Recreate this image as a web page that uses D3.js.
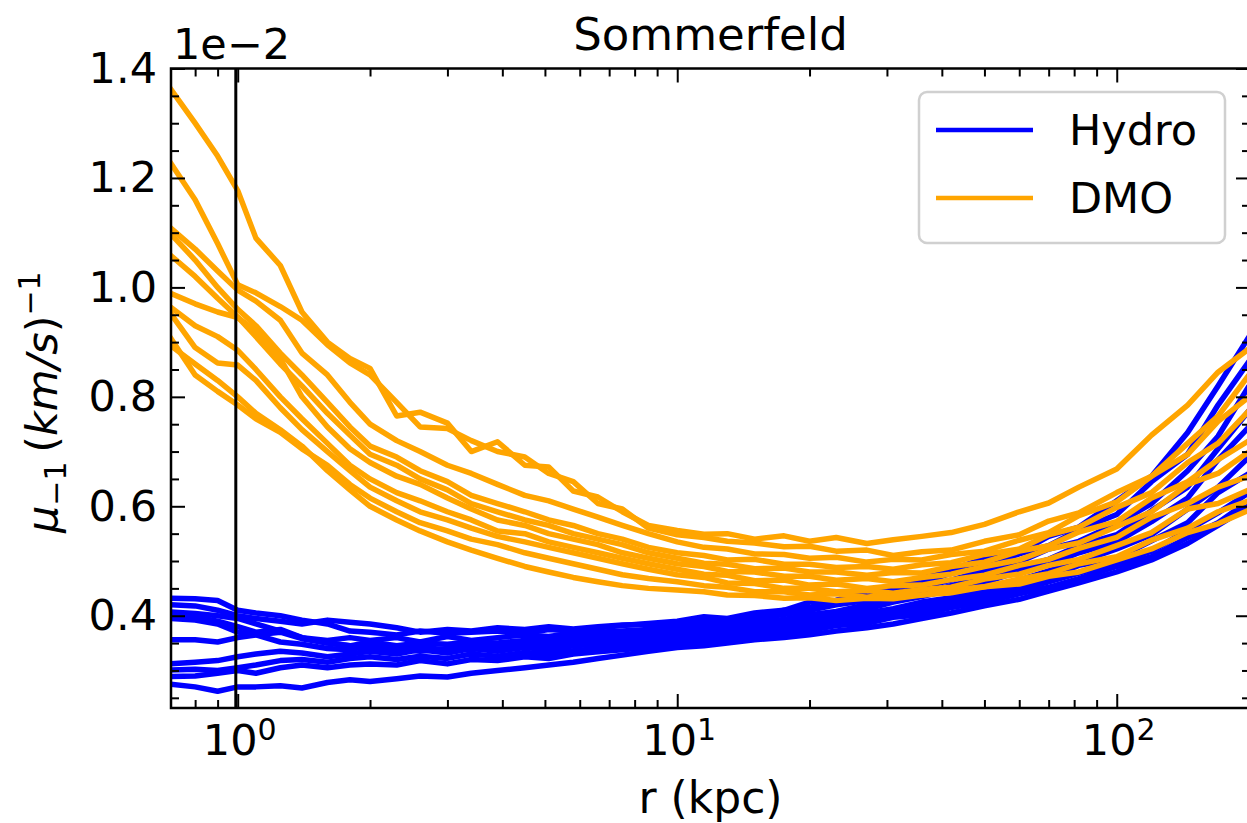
<!DOCTYPE html>
<html>
<head>
<meta charset="utf-8">
<script src="https://cdn.jsdelivr.net/npm/d3@7"></script>
<style>
  body { margin: 0; background: #fff; }
  text { font-family: 'DejaVu Sans', sans-serif; }
</style>
</head>
<body>
<div id="chart"></div>
<script>
// radius grid (kpc) shared by every profile
const radius = [0.7, 0.8, 0.9, 1.0, 1.1, 1.25, 1.4, 1.6, 1.8, 2.0, 2.3, 2.6, 3.0, 3.4, 3.9, 4.5, 5.1, 5.8, 6.6, 7.5,
  8.6, 10, 11.5, 13, 15, 17.5, 20, 23, 27, 31, 36, 42, 50, 60, 70, 82, 100, 120, 145, 170, 200]

// mu_-1 in units of 1e-2 (km/s)^-1
const hydro = [
  [0.432, 0.431, 0.428, 0.41, 0.405, 0.40, 0.392, 0.385, 0.372, 0.37, 0.365, 0.372, 0.368, 0.37, 0.372, 0.368, 0.375, 0.372, 0.378, 0.382, 0.386, 0.39, 0.398, 0.395, 0.405, 0.41, 0.425, 0.428, 0.445, 0.452, 0.47, 0.484, 0.505, 0.515, 0.545, 0.562, 0.61, 0.655, 0.735, 0.82, 0.91],
  [0.42, 0.418, 0.41, 0.40, 0.395, 0.39, 0.385, 0.392, 0.388, 0.385, 0.378, 0.37, 0.375, 0.372, 0.378, 0.375, 0.38, 0.376, 0.38, 0.383, 0.384, 0.385, 0.39, 0.392, 0.398, 0.41, 0.415, 0.428, 0.435, 0.45, 0.46, 0.478, 0.49, 0.513, 0.528, 0.557, 0.585, 0.645, 0.695, 0.785, 0.865],
  [0.407, 0.404, 0.40, 0.395, 0.385, 0.372, 0.36, 0.355, 0.36, 0.355, 0.36, 0.352, 0.362, 0.355, 0.36, 0.365, 0.362, 0.368, 0.37, 0.372, 0.375, 0.378, 0.383, 0.388, 0.395, 0.402, 0.41, 0.42, 0.428, 0.44, 0.452, 0.465, 0.483, 0.498, 0.522, 0.536, 0.568, 0.605, 0.665, 0.728, 0.82],
  [0.401, 0.398, 0.39, 0.38, 0.37, 0.375, 0.36, 0.35, 0.345, 0.352, 0.345, 0.35, 0.348, 0.352, 0.35, 0.355, 0.358, 0.36, 0.362, 0.366, 0.368, 0.372, 0.378, 0.38, 0.388, 0.393, 0.402, 0.408, 0.42, 0.43, 0.44, 0.455, 0.47, 0.488, 0.503, 0.528, 0.548, 0.592, 0.635, 0.705, 0.775],
  [0.395, 0.392, 0.385, 0.37, 0.365, 0.352, 0.348, 0.34, 0.338, 0.345, 0.338, 0.342, 0.338, 0.345, 0.342, 0.348, 0.35, 0.352, 0.356, 0.36, 0.364, 0.368, 0.37, 0.378, 0.382, 0.39, 0.395, 0.405, 0.412, 0.425, 0.435, 0.448, 0.46, 0.482, 0.493, 0.515, 0.535, 0.572, 0.615, 0.685, 0.745],
  [0.356, 0.356, 0.352, 0.36, 0.365, 0.37, 0.358, 0.35, 0.345, 0.338, 0.34, 0.335, 0.34, 0.338, 0.345, 0.342, 0.348, 0.345, 0.352, 0.355, 0.358, 0.362, 0.368, 0.37, 0.378, 0.383, 0.39, 0.397, 0.405, 0.413, 0.425, 0.433, 0.448, 0.465, 0.482, 0.498, 0.522, 0.548, 0.595, 0.635, 0.69],
  [0.312, 0.315, 0.318, 0.325, 0.33, 0.335, 0.332, 0.325, 0.33, 0.335, 0.33, 0.338, 0.332, 0.34, 0.335, 0.342, 0.338, 0.345, 0.348, 0.35, 0.354, 0.358, 0.362, 0.368, 0.372, 0.38, 0.385, 0.393, 0.398, 0.41, 0.418, 0.43, 0.44, 0.455, 0.47, 0.492, 0.505, 0.537, 0.57, 0.625, 0.66],
  [0.301, 0.302, 0.30, 0.305, 0.31, 0.318, 0.32, 0.315, 0.322, 0.325, 0.32, 0.326, 0.322, 0.33, 0.326, 0.333, 0.33, 0.336, 0.34, 0.343, 0.348, 0.352, 0.36, 0.362, 0.37, 0.375, 0.38, 0.39, 0.394, 0.405, 0.41, 0.423, 0.432, 0.447, 0.462, 0.478, 0.497, 0.518, 0.556, 0.588, 0.625],
  [0.289, 0.29, 0.295, 0.30, 0.295, 0.305, 0.31, 0.305, 0.31, 0.312, 0.31, 0.318, 0.312, 0.32, 0.318, 0.325, 0.322, 0.33, 0.334, 0.338, 0.342, 0.348, 0.352, 0.358, 0.363, 0.368, 0.373, 0.382, 0.386, 0.397, 0.402, 0.415, 0.425, 0.44, 0.452, 0.468, 0.49, 0.508, 0.543, 0.57, 0.61],
  [0.275, 0.27, 0.262, 0.27, 0.27, 0.272, 0.268, 0.278, 0.283, 0.28, 0.285, 0.29, 0.288, 0.295, 0.30, 0.305, 0.31, 0.315, 0.322, 0.328, 0.335, 0.342, 0.345, 0.35, 0.356, 0.36, 0.365, 0.372, 0.378, 0.385, 0.395, 0.405, 0.418, 0.43, 0.445, 0.46, 0.48, 0.502, 0.532, 0.565, 0.60]
]

const dmo = [
  [1.365, 1.30, 1.24, 1.177, 1.09, 1.04, 0.955, 0.90, 0.87, 0.852, 0.765, 0.772, 0.752, 0.70, 0.718, 0.675, 0.672, 0.628, 0.617, 0.59, 0.565, 0.556, 0.549, 0.55, 0.54, 0.546, 0.536, 0.543, 0.532, 0.539, 0.545, 0.552, 0.567, 0.59, 0.606, 0.635, 0.668, 0.73, 0.785, 0.845, 0.888],
  [1.23, 1.16, 1.08, 1.005, 0.99, 0.965, 0.94, 0.895, 0.862, 0.84, 0.79, 0.745, 0.742, 0.72, 0.70, 0.69, 0.66, 0.645, 0.605, 0.595, 0.56, 0.548, 0.543, 0.536, 0.533, 0.526, 0.527, 0.518, 0.52, 0.51, 0.517, 0.52, 0.536, 0.548, 0.573, 0.588, 0.625, 0.655, 0.715, 0.765, 0.84],
  [1.11, 1.07, 1.03, 0.995, 0.975, 0.94, 0.88, 0.84, 0.79, 0.75, 0.72, 0.70, 0.675, 0.66, 0.64, 0.62, 0.61, 0.595, 0.58, 0.565, 0.55, 0.535, 0.525, 0.522, 0.513, 0.512, 0.505, 0.507, 0.498, 0.503, 0.502, 0.512, 0.518, 0.538, 0.552, 0.583, 0.608, 0.655, 0.695, 0.755, 0.80],
  [1.10, 1.05, 1.0, 0.96, 0.93, 0.88, 0.84, 0.79, 0.745, 0.71, 0.69, 0.665, 0.645, 0.62, 0.605, 0.59, 0.575, 0.565, 0.55, 0.54, 0.525, 0.515, 0.51, 0.502, 0.503, 0.494, 0.494, 0.488, 0.49, 0.485, 0.493, 0.497, 0.512, 0.522, 0.548, 0.562, 0.598, 0.625, 0.68, 0.715, 0.775],
  [1.06, 1.02, 0.98, 0.946, 0.91, 0.86, 0.82, 0.77, 0.73, 0.695, 0.675, 0.65, 0.63, 0.605, 0.59, 0.575, 0.565, 0.55, 0.54, 0.53, 0.515, 0.505, 0.496, 0.494, 0.486, 0.487, 0.48, 0.48, 0.474, 0.479, 0.478, 0.49, 0.498, 0.518, 0.528, 0.553, 0.572, 0.615, 0.645, 0.685, 0.72],
  [0.99, 0.97, 0.955, 0.945, 0.92, 0.87, 0.80, 0.745, 0.705, 0.68, 0.655, 0.64, 0.615, 0.595, 0.575, 0.565, 0.55, 0.54, 0.53, 0.515, 0.505, 0.495, 0.49, 0.481, 0.48, 0.472, 0.472, 0.465, 0.468, 0.462, 0.47, 0.476, 0.49, 0.502, 0.522, 0.533, 0.563, 0.59, 0.64, 0.66, 0.70],
  [0.965, 0.93, 0.91, 0.885, 0.85, 0.80, 0.76, 0.715, 0.675, 0.65, 0.625, 0.61, 0.59, 0.575, 0.555, 0.55, 0.535, 0.525, 0.515, 0.505, 0.495, 0.485, 0.476, 0.474, 0.464, 0.465, 0.456, 0.458, 0.45, 0.455, 0.456, 0.466, 0.474, 0.492, 0.503, 0.523, 0.543, 0.58, 0.605, 0.635, 0.655],
  [0.955, 0.89, 0.862, 0.858, 0.83, 0.78, 0.74, 0.70, 0.665, 0.635, 0.61, 0.59, 0.575, 0.56, 0.545, 0.535, 0.525, 0.515, 0.505, 0.495, 0.485, 0.475, 0.47, 0.46, 0.459, 0.45, 0.45, 0.444, 0.446, 0.441, 0.448, 0.452, 0.467, 0.476, 0.492, 0.503, 0.528, 0.552, 0.595, 0.605, 0.63],
  [0.91, 0.84, 0.81, 0.785, 0.76, 0.735, 0.705, 0.675, 0.64, 0.615, 0.59, 0.57, 0.555, 0.54, 0.53, 0.515, 0.505, 0.495, 0.485, 0.475, 0.468, 0.462, 0.455, 0.452, 0.444, 0.444, 0.438, 0.44, 0.434, 0.44, 0.438, 0.447, 0.453, 0.467, 0.477, 0.495, 0.508, 0.538, 0.56, 0.59, 0.61],
  [0.895, 0.86, 0.83, 0.80, 0.77, 0.74, 0.71, 0.665, 0.63, 0.60, 0.575, 0.555, 0.535, 0.52, 0.505, 0.49, 0.48, 0.47, 0.462, 0.455, 0.45, 0.447, 0.444, 0.438, 0.437, 0.432, 0.433, 0.428, 0.432, 0.431, 0.438, 0.442, 0.453, 0.458, 0.472, 0.48, 0.502, 0.522, 0.552, 0.568, 0.593]
]

const seriesNames = ['Hydro', 'DMO']
const seriesColors = ['blue', 'orange']
const vline = 0.99

const xMajor = [1, 10, 100]
const xExponents = ['0', '1', '2']
const xMinor = [0.8, 0.9, 2, 3, 4, 5, 6, 7, 8, 9, 20, 30, 40, 50, 60, 70, 80, 90, 200]
const yMajor = [0.4, 0.6, 0.8, 1.0, 1.2, 1.4]
const yMinor = [0.25, 0.3, 0.35, 0.45, 0.5, 0.55, 0.65, 0.7, 0.75, 0.85, 0.9, 0.95, 1.05, 1.1, 1.15, 1.25, 1.3, 1.35]

const width = 1247
const height = 823
const plot = {left: 171, right: 1250, top: 68.5, bottom: 708}

const svg = d3.select('#chart').append('svg')
  .attr('width', width)
  .attr('height', height)
  .style('display', 'block')

svg.append('rect').attr('width', width).attr('height', height).attr('fill', '#fff')

const x = d3.scaleLog().domain([0.705, 201]).range([plot.left, plot.right])
const y = d3.scaleLinear().domain([0.2314, 1.4]).range([plot.bottom, plot.top])

svg.append('clipPath').attr('id', 'clip')
  .append('rect')
  .attr('x', plot.left).attr('y', plot.top)
  .attr('width', plot.right - plot.left).attr('height', plot.bottom - plot.top)

const line = d3.line()
  .x((d, i) => x(radius[i]))
  .y(d => y(d))

const curves = svg.append('g').attr('clip-path', 'url(#clip)')
hydro.forEach((h, i) => {
  curves.append('path').datum(h)
    .attr('fill', 'none').attr('stroke', seriesColors[0])
    .attr('stroke-width', 5.5).attr('stroke-linejoin', 'round')
    .attr('d', line)
  curves.append('path').datum(dmo[i])
    .attr('fill', 'none').attr('stroke', seriesColors[1])
    .attr('stroke-width', 5.5).attr('stroke-linejoin', 'round')
    .attr('d', line)
})

curves.append('line')
  .attr('x1', x(vline)).attr('x2', x(vline))
  .attr('y1', plot.top).attr('y2', plot.bottom)
  .attr('stroke', '#000').attr('stroke-width', 3)

// ticks (all inward)
function styleAxis(g) {
  g.select('.domain').remove()
  g.selectAll('.tick line').attr('stroke', '#000').attr('stroke-width', 2)
  g.attr('font-family', 'DejaVu Sans').attr('font-size', 43)
  g.selectAll('.tick text').attr('fill', '#000')
}

svg.append('g').attr('transform', `translate(${plot.left},0)`)
  .call(d3.axisLeft(y).tickValues(yMajor).tickSize(-14).tickPadding(14).tickFormat(d3.format('.1f')))
  .call(styleAxis)
svg.append('g').attr('transform', `translate(${plot.left},0)`)
  .call(d3.axisLeft(y).tickValues(yMinor).tickSize(-8).tickFormat(''))
  .call(styleAxis)
svg.append('g').attr('transform', `translate(${plot.right},0)`)
  .call(d3.axisRight(y).tickValues(yMajor).tickSize(-14).tickFormat(''))
  .call(styleAxis)
svg.append('g').attr('transform', `translate(${plot.right},0)`)
  .call(d3.axisRight(y).tickValues(yMinor).tickSize(-8).tickFormat(''))
  .call(styleAxis)

svg.append('g').attr('transform', `translate(0,${plot.bottom})`)
  .call(d3.axisBottom(x).tickValues(xMajor).tickSize(-14).tickFormat(''))
  .call(styleAxis)
svg.append('g').attr('transform', `translate(0,${plot.bottom})`)
  .call(d3.axisBottom(x).tickValues(xMinor).tickSize(-8).tickFormat(''))
  .call(styleAxis)
svg.append('g').attr('transform', `translate(0,${plot.top})`)
  .call(d3.axisTop(x).tickValues(xMajor).tickSize(-14).tickFormat(''))
  .call(styleAxis)
svg.append('g').attr('transform', `translate(0,${plot.top})`)
  .call(d3.axisTop(x).tickValues(xMinor).tickSize(-8).tickFormat(''))
  .call(styleAxis)

// 10^n labels
xMajor.forEach((v, i) => {
  const t = svg.append('text')
    .attr('x', x(v) + 2).attr('y', 755)
    .attr('text-anchor', 'middle')
    .attr('font-size', 43)
  t.append('tspan').text('10')
  t.append('tspan').attr('font-size', 30).attr('dy', -15).text(xExponents[i])
})

// spines
svg.append('rect')
  .attr('x', plot.left).attr('y', plot.top)
  .attr('width', plot.right - plot.left).attr('height', plot.bottom - plot.top)
  .attr('fill', 'none').attr('stroke', '#000').attr('stroke-width', 2.5)

// offset text
svg.append('text').attr('x', 173).attr('y', 59).attr('font-size', 43).text('1e\u22122')

// title
svg.append('text')
  .attr('x', (plot.left + plot.right) / 2).attr('y', 50)
  .attr('text-anchor', 'middle').attr('font-size', 45)
  .text('Sommerfeld')

// x label
svg.append('text')
  .attr('x', (plot.left + plot.right) / 2).attr('y', 813)
  .attr('text-anchor', 'middle').attr('font-size', 44)
  .text('r (kpc)')

// y label
const yl = svg.append('text')
  .attr('transform', 'translate(57,533) rotate(-90)')
  .attr('font-size', 43)
yl.append('tspan').attr('font-style', 'italic').text('\u03bc')
yl.append('tspan').attr('font-size', 30).attr('dy', 9).text('\u22121')
yl.append('tspan').attr('dy', -9).text('\u2009(')
yl.append('tspan').attr('font-style', 'italic').text('km/s')
yl.append('tspan').text(')')
yl.append('tspan').attr('font-size', 30).attr('dy', -17).text('\u22121')

// legend
const legend = svg.append('g')
legend.append('rect')
  .attr('x', 919).attr('y', 92).attr('width', 306).attr('height', 151).attr('rx', 8)
  .attr('fill', '#fff').attr('fill-opacity', 0.8)
  .attr('stroke', '#d0d0d0').attr('stroke-width', 2.5)
seriesNames.forEach((name, i) => {
  const ly = 130 + i * 68
  legend.append('line')
    .attr('x1', 936).attr('x2', 1033).attr('y1', ly).attr('y2', ly)
    .attr('stroke', seriesColors[i]).attr('stroke-width', 4.5)
  legend.append('text')
    .attr('x', 1069).attr('y', ly + 15).attr('font-size', 43)
    .text(name)
})
</script>
</body>
</html>
